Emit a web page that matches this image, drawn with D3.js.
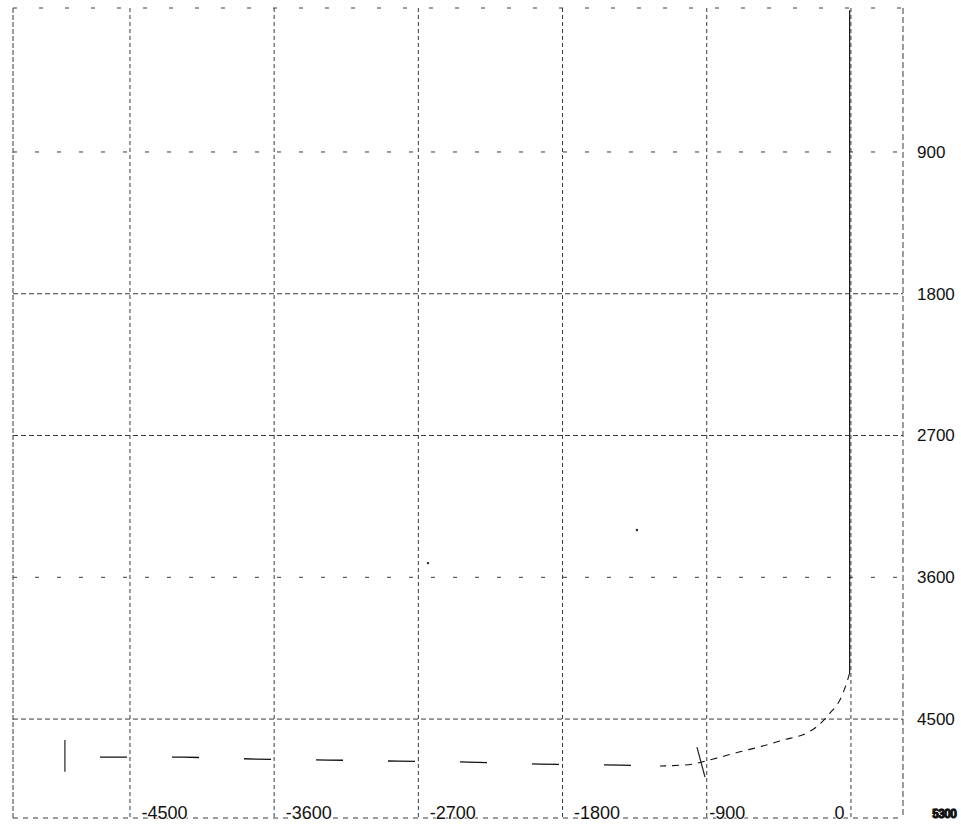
<!DOCTYPE html>
<html><head><meta charset="utf-8">
<script src="https://cdn.jsdelivr.net/npm/d3@7"></script>
<style>body{margin:0;background:#fff}svg{display:block}text{font-family:"Liberation Sans",Arial,sans-serif}</style>
</head><body><svg id="c" width="961" height="829"></svg>
<script>
// Ticks
const xTicks = [-4500, -3600, -2700, -1800, -900, 0];
const yTicks = [900, 1800, 2700, 3600, 4500];
const cornerLabels = ["5300", "6300"];
// Trajectory (x = displacement, y = depth)
const verticalSection = [[-8, 0], [-8, 1000], [-8, 2000], [-8, 3000], [-8, 4208]];
const buildSection = [[-8, 4208], [-27, 4272], [-69, 4379], [-131, 4462], [-214, 4549], [-277, 4589],
  [-424, 4633], [-568, 4676], [-693, 4708], [-838, 4748], [-924, 4771], [-986, 4786], [-1130, 4796], [-1192, 4798]];
const lateralSection = [[-1192, 4798], [-1442, 4792], [-1941, 4786], [-2390, 4773], [-2827, 4767],
  [-3264, 4760], [-3714, 4754], [-4169, 4741], [-4700, 4741]];
const tdMarker = [[-4906, 4633], [-4906, 4835]];
const targetMarker = [[-961, 4678], [-911, 4868]];
const specks = [[-1336, 3300], [-2640, 3510]];

const svg = d3.select("#c");
const x = d3.scaleLinear().domain([-5230, 325]).range([13, 903]);
const y = d3.scaleLinear().domain([-14, 5128]).range([8, 818]);
const [x0, x1] = x.range(), [y0, y1] = y.range();
const line = d3.line().x(d => x(d[0])).y(d => y(d[1]));
const FONT = '"Liberation Sans",Arial,sans-serif';

// Frame
const grid = svg.append("g").attr("fill", "none").attr("stroke", "#3a3a3a").attr("stroke-width", 1);
grid.append("line").attr("x1", x0).attr("x2", x0).attr("y1", y0).attr("y2", y1).attr("stroke-dasharray", "5,2");
grid.append("line").attr("x1", x1).attr("x2", x1).attr("y1", y0).attr("y2", y1).attr("stroke-dasharray", "6,3");
grid.append("line").attr("x1", x0).attr("x2", x1).attr("y1", y0).attr("y2", y0).attr("stroke-dasharray", "4,22");
grid.append("line").attr("x1", x0).attr("x2", x1).attr("y1", y1).attr("y2", y1).attr("stroke-dasharray", "5,5");

// Grid lines
grid.selectAll(".vg").data(xTicks).join("line")
  .attr("x1", d => x(d)).attr("x2", d => x(d)).attr("y1", y0).attr("y2", y1)
  .attr("stroke-dasharray", "4,3");
grid.selectAll(".hg").data(yTicks).join("line")
  .attr("x1", x0).attr("x2", x1).attr("y1", d => y(d)).attr("y2", d => y(d))
  .attr("stroke-dasharray", (d, i) => (i % 3 === 0) ? "4,18" : "5,3");

// Axes labels
const yAxis = svg.append("g").attr("transform", `translate(${x1},0)`)
  .call(d3.axisRight(y).tickValues(yTicks).tickSize(0).tickPadding(14).tickFormat(d => String(d)));
yAxis.select(".domain").remove();
yAxis.selectAll("text").attr("font-size", 17).attr("fill", "#111").style("font-family", FONT);

const xAxis = svg.append("g").attr("transform", `translate(0,${y1})`)
  .call(d3.axisBottom(x).tickValues(xTicks).tickSize(0).tickFormat(d => String(d)));
xAxis.select(".domain").remove();
xAxis.selectAll("text").attr("font-size", 18).attr("fill", "#111").style("font-family", FONT)
  .attr("text-anchor", "start").attr("y", 1).attr("dy", 0)
  .attr("x", d => d === 0 ? -17 : (d === -900 ? 2 : 11))
  .attr("paint-order", "stroke").attr("stroke", "#fff").attr("stroke-width", 2);

svg.append("g").selectAll("text").data(cornerLabels).join("text")
  .attr("x", (d, i) => x1 + 29 + i).attr("y", y1 + 0)
  .attr("font-size", 12.5).attr("fill", "#111").attr("stroke", "#111").attr("stroke-width", 0.8)
  .attr("textLength", 24).attr("lengthAdjust", "spacingAndGlyphs")
  .style("font-family", FONT)
  .text(d => d);

// Trajectory
svg.append("path").datum(verticalSection).attr("d", line).attr("fill", "none")
  .attr("stroke", "#111").attr("stroke-width", 1.2);
svg.append("path").datum(buildSection).attr("d", line.curve(d3.curveMonotoneX)).attr("fill", "none")
  .attr("stroke", "#111").attr("stroke-width", 1.1).attr("stroke-dasharray", "7,6");
line.curve(d3.curveLinear);
svg.append("path").datum(lateralSection).attr("d", line).attr("fill", "none")
  .attr("stroke", "#111").attr("stroke-width", 1.3).attr("stroke-dasharray", "27,45").attr("stroke-dashoffset", -29);
svg.append("path").datum(tdMarker).attr("d", line).attr("stroke", "#222").attr("stroke-width", 1.2);
svg.append("path").datum(targetMarker).attr("d", line).attr("stroke", "#222").attr("stroke-width", 1.2);
svg.append("g").selectAll("circle").data(specks).join("circle")
  .attr("cx", d => x(d[0])).attr("cy", d => y(d[1])).attr("r", 1.2).attr("fill", "#222");
</script></body></html>
